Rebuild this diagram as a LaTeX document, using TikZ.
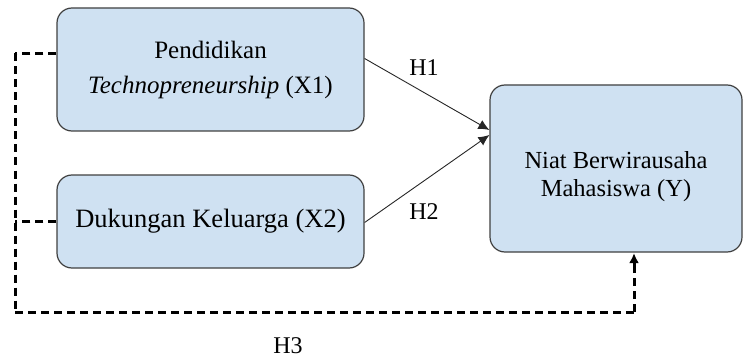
\documentclass[tikz,border=0pt]{standalone}
\usepackage{fontspec}
\setmainfont{Liberation Serif}
\usetikzlibrary{arrows.meta}
\definecolor{boxblue}{RGB}{207,225,242}
\definecolor{boxline}{RGB}{64,64,64}
\begin{document}
\begin{tikzpicture}[x=1pt,y=-1pt,
  var/.style={draw=boxline, line width=1.2pt, fill=boxblue, rounded corners=15pt, align=center, inner sep=0pt},
  path/.style={draw=black!85, line width=0.9pt, -{Latex[length=11pt,width=10pt]}},
  hline/.style={draw=black, line width=3pt, dash pattern=on 8pt off 5pt},
  lab/.style={font=\fontsize{24}{28}\selectfont}]
\useasboundingbox (0,0) rectangle (743,358);
\node[var, minimum width=307pt, minimum height=123pt, font=\fontsize{25}{35}\selectfont] (x1) at (210.5,69.5) {Pendidikan\\\textit{Technopreneurship} (X1)};
\node[var, minimum width=307pt, minimum height=93pt, font=\fontsize{26.5}{30}\selectfont] (x2) at (210.5,221.5) {Dukungan Keluarga (X2)};
\node[var, minimum width=252pt, minimum height=167pt, text height=62pt, font=\fontsize{24.5}{28}\selectfont] (y) at (616,168.5) {Niat Berwirausaha\\Mahasiswa (Y)};
\coordinate (top) at (15,53.5);
\coordinate (lft) at (15,312);
\coordinate (rgt) at (634,312);
\coordinate (tip) at (rgt |- y.south);
\draw[path] ([yshift=11pt]x1.east) -- ([yshift=38.5pt]y.west);
\draw[path] ([yshift=-1pt]x2.east) -- ([yshift=33.5pt]y.west);
% H3: dashed line round the left and bottom
\draw[hline] (x1.west |- top) -- (top);
\draw[hline] (top) -- (lft);
\draw[hline] (lft) -- (rgt);
\draw[hline] (rgt) -- ([yshift=-12pt]tip);
\draw[hline] (x2.west) -- (x2.west -| lft);
\draw[-{Latex[length=10pt,width=10pt]}, line width=3pt] ([yshift=-13pt]tip) -- ([yshift=-0.5pt]tip);
\node[lab] (h1) at (424,68) {H1};
\node[lab] (h2) at (424,212) {H2};
\node[lab] (h3) at (288,346) {H3};
\end{tikzpicture}
\end{document}
